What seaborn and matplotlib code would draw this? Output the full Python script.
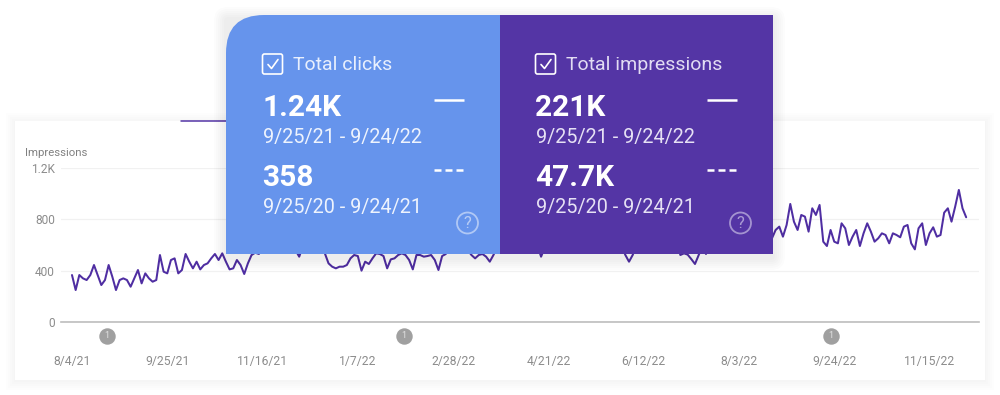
import pandas as pd
import matplotlib
matplotlib.use('Agg')
import matplotlib.pyplot as plt
import seaborn as sns
from matplotlib.patches import FancyBboxPatch, PathPatch, Circle, Rectangle
from matplotlib.path import Path

# impressions, one reading every 2 days from 8/4/21
# (the stretches behind the two panels are rough guesses)
impressions = [
    366, 249, 366, 340, 327, 366, 444, 366, 288, 327, 444, 353, 249, 327, 340,
    327, 275, 340, 405, 301, 379, 340, 314, 327, 522, 392, 379, 483, 496, 379,
    405, 530, 470, 418, 470, 410, 444, 457, 496, 530, 483, 535, 470, 410, 418,
    483, 444, 374, 457, 522, 540, 530, 600, 570, 640, 590, 620, 560, 650, 600,
    580, 560, 509, 590, 640, 580, 620, 660, 570, 535, 457, 431, 418, 431, 431,
    444, 496, 522, 514, 400, 470, 452, 496, 535, 530, 514, 418, 488, 496, 522,
    535, 522, 483, 410, 522, 522, 509, 514, 522, 483, 405, 514, 530, 590, 620,
    560, 640, 580, 560, 522, 496, 522, 530, 509, 470, 522, 580, 640, 600, 560,
    650, 610, 570, 620, 660, 590, 560, 600, 509, 580, 640, 590, 620, 660, 600,
    570, 640, 610, 580, 650, 620, 590, 660, 620, 580, 640, 600, 570, 620, 640,
    590, 522, 470, 522, 600, 650, 620, 580, 660, 620, 590, 640, 600, 570, 620,
    660, 522, 535, 525, 490, 452, 522, 590, 530, 610, 650, 590, 630, 680, 620,
    600, 660, 700, 640, 610, 670, 720, 650, 620, 680, 640, 652, 717, 743, 665,
    756, 920, 782, 717, 834, 821, 704, 886, 834, 912, 626, 592, 717, 626, 613,
    769, 730, 600, 665, 717, 592, 691, 769, 704, 626, 652, 691, 678, 613, 691,
    678, 660, 743, 756, 613, 566, 730, 769, 600, 691, 738, 665, 678, 852, 886,
    782, 899, 1029, 886, 816,
]
dates = pd.date_range('2021-08-04', periods=len(impressions), freq='2D')
df = pd.DataFrame({'date': dates, 'impressions': impressions})

y_ticks = [0, 400, 800, 1200]
y_labels = ['0', '400', '800', '1.2K']
x_ticks = pd.date_range('2021-08-04', periods=9 + 1, freq='52D')
x_labels = ['8/4/21', '9/25/21', '11/16/21', '1/7/22', '2/28/22',
            '4/21/22', '6/12/22', '8/3/22', '9/24/22', '11/15/22']
note_dates = pd.to_datetime(['2021-08-23', '2022-02-01', '2022-09-22'])

panels = [
    dict(x=226, w=274, color='#6694ec', head='#e8effd', sub='#eef3fd', title='Total clicks',
         now='1.24K', prev='358'),
    dict(x=500, w=273, color='#5435a5', head='#e2dcf3', sub='#e6e1f4', title='Total impressions',
         now='221K', prev='47.7K'),
]
now_range = '9/25/21 - 9/24/22'
prev_range = '9/25/20 - 9/24/21'

sns.set_theme(style='white')
plt.rcParams['font.family'] = ['Roboto', 'DejaVu Sans']

fig = plt.figure(figsize=(10, 3.95), dpi=100, facecolor='white')

# back layer in pixel coords, for the card
bg = fig.add_axes([0, 0, 1, 1], zorder=0)
bg.set_xlim(0, 1000)
bg.set_ylim(395, 0)
bg.axis('off')
for grow in [9, 7, 5, 3, 1]:
    bg.add_patch(Rectangle((15 - grow, 121 - grow + 1), 970 + 2 * grow, 259 + 2 * grow,
                           fc='black', ec='none', alpha=0.009))
bg.add_patch(Rectangle((15, 121), 970, 259, fc='white', ec='none'))
bg.plot([181, 226], [121, 121], color='#5435a5', lw=1.1)

# chart
ax = fig.add_axes([61 / 1000, (395 - 322) / 395, 918 / 1000, 154 / 395], zorder=1)
ax.patch.set_alpha(0)
sns.lineplot(data=df, x='date', y='impressions', ax=ax, color='#4f2ea2', lw=1.45,
             clip_on=False, zorder=3)
ax.set_ylim(0, 1200)
ax.set_xlim(pd.Timestamp('2021-07-29'), pd.Timestamp('2021-07-29') + pd.Timedelta(days=501))
ax.set_yticks(y_ticks)
ax.set_yticklabels(y_labels)
ax.set_xticks(x_ticks)
ax.set_xticklabels(x_labels)
ax.set_xlabel('')
ax.set_ylabel('')
ax.tick_params(axis='y', length=0, pad=4.5, labelsize=8.6, labelcolor='#8c8c8c')
ax.tick_params(axis='x', length=0, pad=24, labelsize=8.7, labelcolor='#8c8c8c')
ax.grid(axis='y', color='#f1f1f1', lw=0.9)
ax.grid(axis='x', visible=False)
sns.despine(ax=ax, left=True, right=True, top=True)
ax.spines['bottom'].set_color('#bdbdbd')
ax.spines['bottom'].set_linewidth(1.2)

# the little "1" markers under the axis
note_y = [-109] * len(note_dates)
ax.scatter(note_dates, note_y, s=140, color='#a0a0a0', clip_on=False, zorder=4, lw=0)
for d in note_dates:
    ax.text(d, -109, '1', color='#e4e4e4', fontsize=6.5, ha='center', va='center', zorder=5)

# front layer for the two panels
ov = fig.add_axes([0, 0, 1, 1], zorder=2)
ov.set_xlim(0, 1000)
ov.set_ylim(395, 0)
ov.axis('off')

# soft shadow behind the panels
for grow in [12, 10, 8, 6, 4, 2]:
    ov.add_patch(FancyBboxPatch((226 - grow, 15 - grow + 4), 547 + 2 * grow, 239 + 2 * grow,
                                boxstyle='round,pad=0,rounding_size=%d' % (grow + 2),
                                fc='black', ec='none', alpha=0.011))

# blue panel has the big rounded corner top left
top, bottom, left, right, r = 15, 254, 226, 500, 38
verts = [(left, bottom), (left, top + r), (left, top), (left + r, top),
         (right, top), (right, bottom), (left, bottom)]
codes = [Path.MOVETO, Path.LINETO, Path.CURVE3, Path.CURVE3, Path.LINETO, Path.LINETO, Path.CLOSEPOLY]
ov.add_patch(PathPatch(Path(verts, codes), fc=panels[0]['color'], ec='none'))
ov.add_patch(Rectangle((500, 15), 273, 239, fc=panels[1]['color'], ec='none'))

for p in panels:
    x0 = p['x'] + 37 if p['x'] == 226 else p['x'] + 36
    ov.add_patch(FancyBboxPatch((x0 - 0.5, 54), 20, 20, boxstyle='round,pad=0,rounding_size=2',
                                fc='none', ec='white', lw=1.2))
    ov.plot([x0 + 5, x0 + 8.5, x0 + 15], [64.5, 68.5, 59.5], color='white', lw=1.2)
    ov.text(x0 + 30, 65, p['title'], color=p['head'], fontsize=14, va='center', ha='left')
    ov.text(x0 - 0.5, 108.5, p['now'], color='white', fontsize=21.5, fontweight='bold', va='center', ha='left')
    ov.text(x0, 137.5, now_range, color=p['sub'], fontsize=14.2, va='center', ha='left')
    ov.text(x0 - 0.5, 178.5, p['prev'], color='white', fontsize=21.5, fontweight='bold', va='center', ha='left')
    ov.text(x0, 207.5, prev_range, color=p['sub'], fontsize=14.2, va='center', ha='left')
    ov.plot([x0 + 171, x0 + 201], [100, 100], color='white', lw=1.8, solid_capstyle='butt')
    ov.plot([x0 + 171, x0 + 200], [170, 170], color='white', lw=1.8, dashes=(2.8, 1.6), dash_capstyle='butt')
    ov.add_patch(Circle((x0 + 204.5, 223), 10.5, fc='none', ec=p['sub'], lw=1.3, alpha=0.55))
    ov.text(x0 + 204.5, 223.5, '?', color=p['sub'], alpha=0.6, fontsize=12, ha='center', va='center')

# label above the y axis
ov.text(25, 152.5, 'Impressions', color='#808080', fontsize=8.2, va='center', ha='left')

fig.savefig('out.png', dpi=100)
